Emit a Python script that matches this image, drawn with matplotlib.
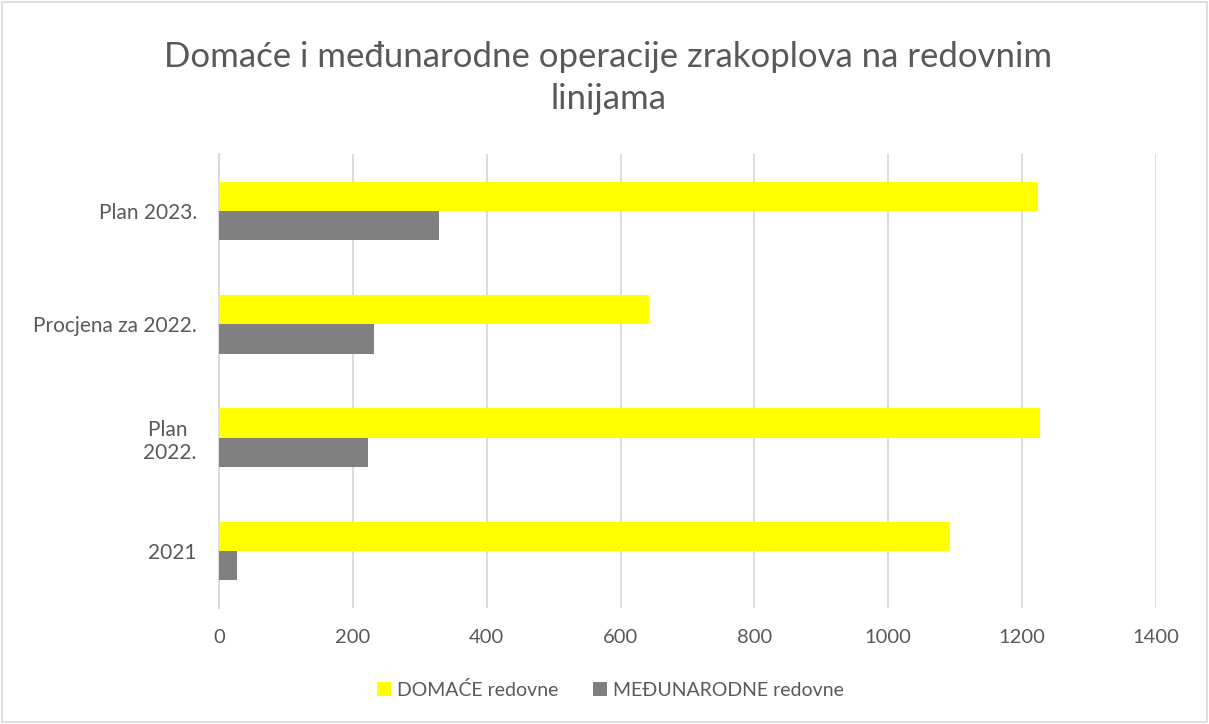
import numpy as np
import matplotlib
matplotlib.use("Agg")
import matplotlib.pyplot as plt
from matplotlib.patches import Rectangle

plt.rcParams["font.family"] = ["Lato", "DejaVu Sans"]

categories = ["2021", "Plan \n2022.", "Procjena za 2022.", "Plan 2023."]
domace = [1092, 1226, 643, 1223]
medjunarodne = [27, 222, 231, 329]
series_names = ["DOMAĆE redovne", "MEĐUNARODNE redovne"]
TITLE = "Domaće i međunarodne operacije zrakoplova na redovnim\nlinijama"

YELLOW = "#FFFF00"
GREY = "#808080"
TEXT = "#595959"
GRID = "#D9D9D9"


def main():
    fig = plt.figure(figsize=(12.09, 7.24), dpi=100)
    ax = fig.add_axes([219 / 1209, 1 - 607.7 / 724, (1156 - 219) / 1209, (607.7 - 154.3) / 724])

    y = np.arange(len(categories))
    h = 0.26
    ax.barh(y + h / 2, domace, height=h, color=YELLOW, label=series_names[0], zorder=3)
    ax.barh(y - h / 2, medjunarodne, height=h, color=GREY, label=series_names[1], zorder=3)

    ax.set_xlim(0, 1400)
    ax.set_ylim(-0.5, len(categories) - 0.5)
    ax.set_xticks(np.arange(0, 1401, 200))
    ax.set_yticks(y)
    ax.set_yticklabels(categories, ha="right", multialignment="center")
    ax.tick_params(axis="y", length=0, pad=16, labelsize=15, labelcolor=TEXT)
    ax.tick_params(axis="x", length=0, pad=15, labelsize=14.5, labelcolor=TEXT)
    ax.grid(axis="x", color=GRID, lw=1.3, zorder=0)
    for sp in ("top", "right", "bottom"):
        ax.spines[sp].set_visible(False)
    ax.spines["left"].set_color(GRID)
    ax.spines["left"].set_linewidth(1.3)

    fig.text(0.503, 1 - 78 / 724, TITLE, ha="center", va="center",
             fontsize=25, color=TEXT, linespacing=1.4)

    fig.legend(loc="center", bbox_to_anchor=(0.505, 1 - 690 / 724), ncol=2, frameon=False,
               fontsize=14, labelcolor=TEXT, handlelength=0.7, handleheight=0.7,
               handletextpad=0.3, columnspacing=1.8)

    fig.patches.append(Rectangle((2 / 1209, 2 / 724), 1 - 4 / 1209, 1 - 4 / 724,
                                 transform=fig.transFigure, fill=False,
                                 edgecolor=GRID, lw=1.2))
    fig.savefig("out.png", dpi=100)


if __name__ == "__main__":
    main()
